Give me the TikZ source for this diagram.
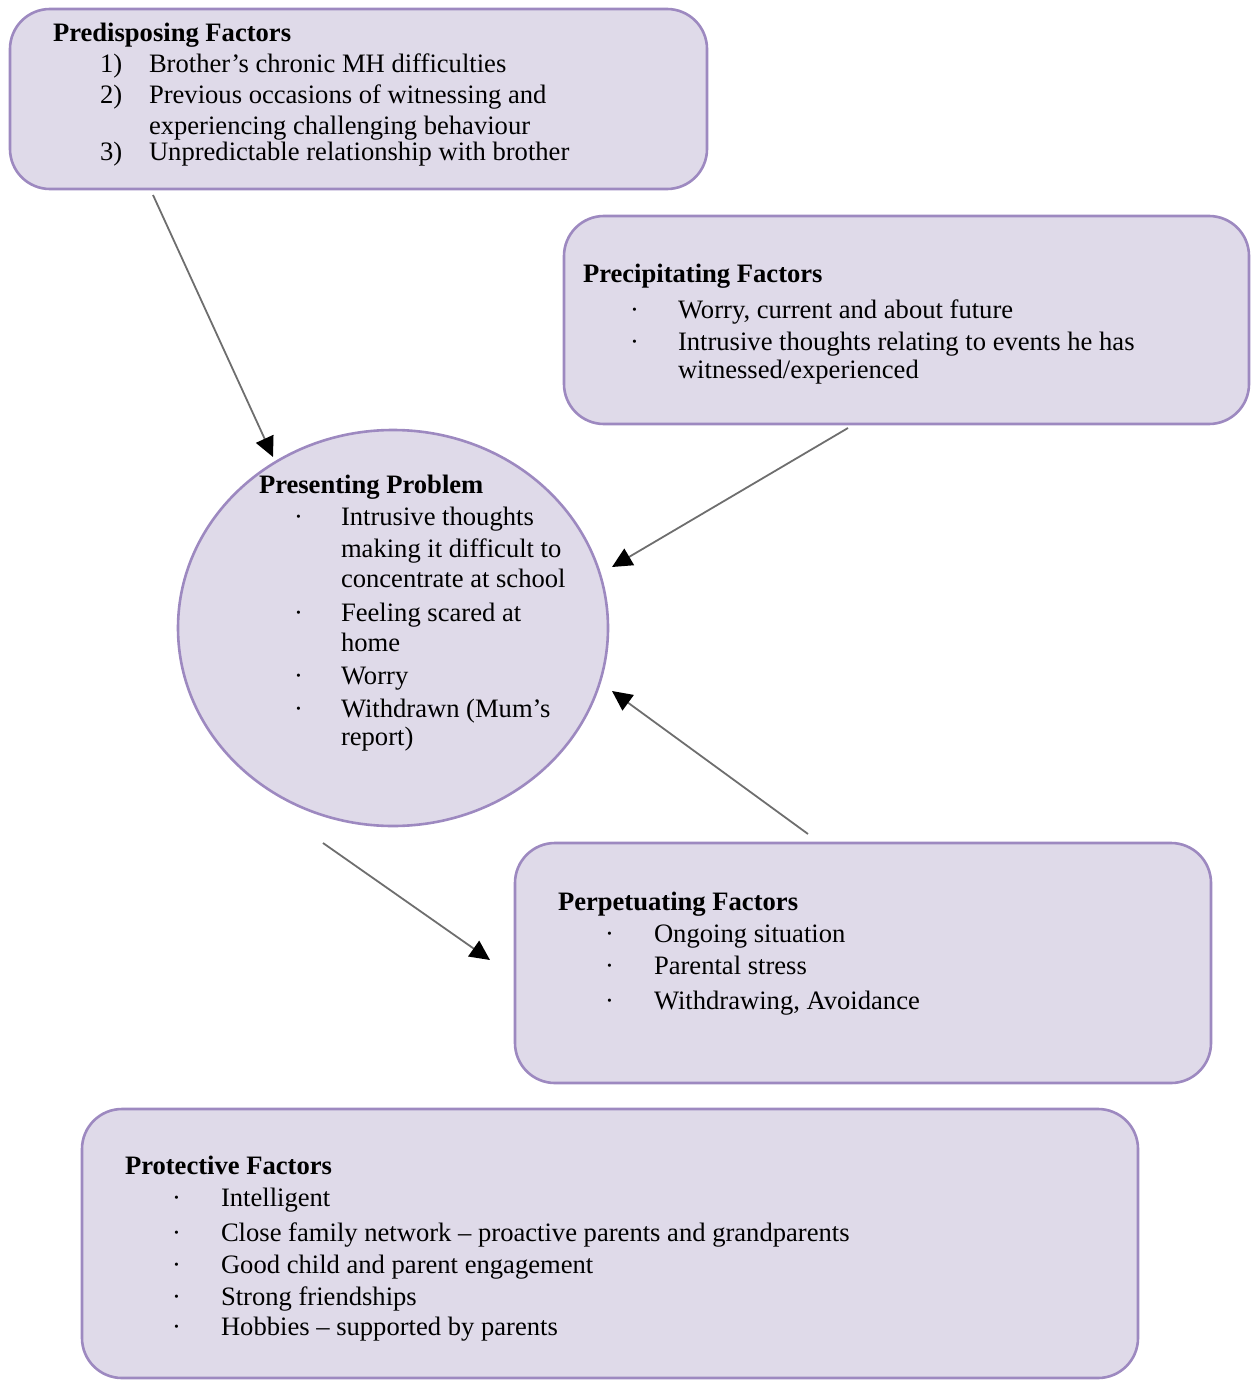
\documentclass[tikz,border=0pt]{standalone}
\usepackage{fontspec}
\setmainfont{Liberation Serif}
\usetikzlibrary{shapes.geometric,arrows.meta,calc}
\definecolor{boxfill}{HTML}{DFDAE9}
\definecolor{boxline}{HTML}{9D89C0}
\definecolor{arrline}{HTML}{6E6E6E}
\begin{document}
\begin{tikzpicture}[x=0.5pt,y=-0.5pt,
  factorbox/.style={draw=boxline,fill=boxfill,line width=1.3pt,rounded corners=20pt,inner sep=0pt,outer sep=0pt},
  probcircle/.style={ellipse,draw=boxline,fill=boxfill,line width=1.3pt,inner sep=0pt,outer sep=0pt,minimum width=215pt,minimum height=198pt},
  txt/.style={anchor=base west,inner sep=0pt,outer sep=0pt,font=\fontsize{13.3pt}{15pt}\selectfont},
  ttl/.style={anchor=base west,inner sep=0pt,outer sep=0pt,font=\fontsize{13.3pt}{15pt}\selectfont\bfseries},
  arr/.style={draw=arrline,line width=0.9pt,-{Triangle[length=10pt,width=9.5pt,color=black]}}]
\useasboundingbox (0,0) rectangle (1251,1380);

% boxes
\node[factorbox,minimum width=348.5pt,minimum height=90pt] (pred) at (358.5,99) {};
\node[factorbox,minimum width=342.5pt,minimum height=104pt] (prec) at (906.5,320) {};
\node[probcircle] (pres) at (393,628) {};
\node[factorbox,minimum width=348pt,minimum height=120pt] (perp) at (863,963) {};
\node[factorbox,minimum width=528pt,minimum height=134.5pt] (prot) at (610,1243.5) {};

% arrows
\draw[arr] ($(pred.south west)+(143,6)$) -- ($(pres.center)+(-120,-171)$);
\draw[arr] ($(prec.south west)+(284,4)$) -- ($(pres.center)+(219,-61)$);
\draw[arr] ($(perp.north west)+(293,-9)$) -- ($(pres.center)+(219,63)$);
\draw[arr] ($(pres.center)+(-70,215)$) -- ($(perp.west)+(-25,-3)$);

% Predisposing
\node[ttl] (pdt) at (53,42) {Predisposing Factors};
\node[txt] (pdn1) at (100,73) {1)};
\node[txt] (pd1) at (149,73) {Brother’s chronic MH difficulties};
\node[txt] (pdn2) at (100,104) {2)};
\node[txt] (pd2a) at (149,104) {Previous occasions of witnessing and};
\node[txt] (pd2b) at (149,135) {experiencing challenging behaviour};
\node[txt] (pdn3) at (100,161) {3)};
\node[txt] (pd3) at (149,161) {Unpredictable relationship with brother};

% Precipitating
\node[ttl] (pct) at (583,282) {Precipitating Factors};
\node[txt] (pcb1) at (630,318) {·};
\node[txt] (pc1) at (678,318) {Worry, current and about future};
\node[txt] (pcb2) at (630,350) {·};
\node[txt] (pc2a) at (678,350) {Intrusive thoughts relating to events he has};
\node[txt] (pc2b) at (678,378) {witnessed/experienced};

% Presenting
\node[ttl] (prt) at (259,493) {Presenting Problem};
\node[txt] (prb1) at (294,525) {·};
\node[txt] (pr1a) at (341,525) {Intrusive thoughts};
\node[txt] (pr1b) at (341,557) {making it difficult to};
\node[txt] (pr1c) at (341,587) {concentrate at school};
\node[txt] (prb2) at (294,621) {·};
\node[txt] (pr2a) at (341,621) {Feeling scared at};
\node[txt] (pr2b) at (341,651) {home};
\node[txt] (prb3) at (294,684) {·};
\node[txt] (pr3) at (341,684) {Worry};
\node[txt] (prb4) at (294,717) {·};
\node[txt] (pr4a) at (341,717) {Withdrawn (Mum’s};
\node[txt] (pr4b) at (341,745) {report)};

% Perpetuating
\node[ttl] (ppt) at (558,910) {Perpetuating Factors};
\node[txt] (ppb1) at (605,942) {·};
\node[txt] (pp1) at (654,942) {Ongoing situation};
\node[txt] (ppb2) at (605,974) {·};
\node[txt] (pp2) at (654,974) {Parental stress};
\node[txt] (ppb3) at (605,1009) {·};
\node[txt] (pp3) at (654,1009) {Withdrawing, Avoidance};

% Protective
\node[ttl] (ptt) at (125,1174) {Protective Factors};
\node[txt] (ptb1) at (172,1206) {·};
\node[txt] (pt1) at (221,1206) {Intelligent};
\node[txt] (ptb2) at (172,1241) {·};
\node[txt] (pt2) at (221,1241) {Close family network – proactive parents and grandparents};
\node[txt] (ptb3) at (172,1273) {·};
\node[txt] (pt3) at (221,1273) {Good child and parent engagement};
\node[txt] (ptb4) at (172,1305) {·};
\node[txt] (pt4) at (221,1305) {Strong friendships};
\node[txt] (ptb5) at (172,1335) {·};
\node[txt] (pt5) at (221,1335) {Hobbies – supported by parents};
\end{tikzpicture}
\end{document}
